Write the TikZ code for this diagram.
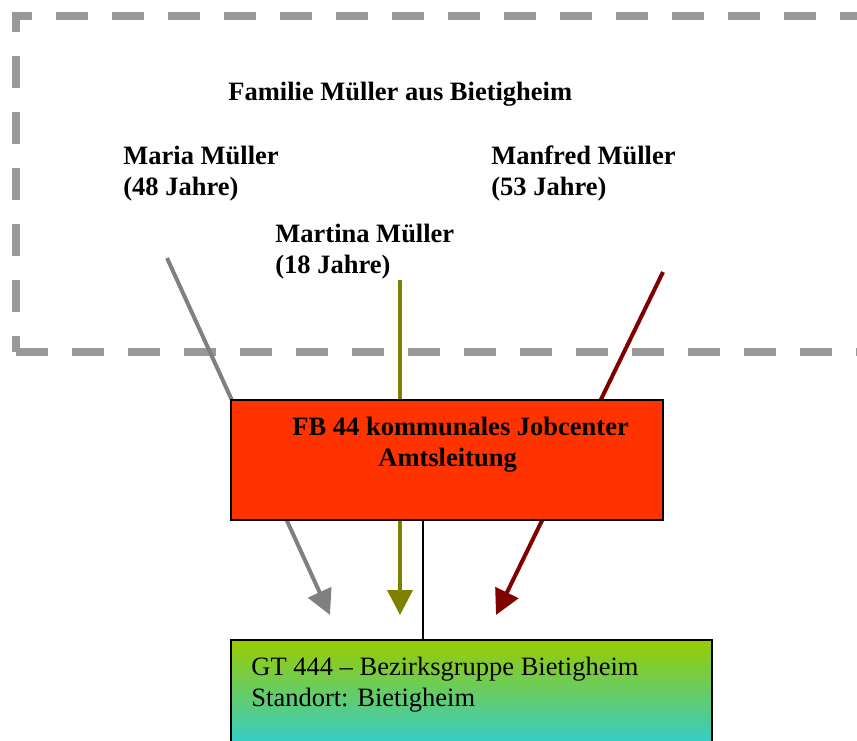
\documentclass[tikz,border=0pt]{standalone}
\usepackage{fontspec}
\setmainfont{Liberation Serif}
\usetikzlibrary{arrows.meta}
\definecolor{framegray}{RGB}{153,153,153}
\definecolor{mariaclr}{RGB}{128,128,128}
\definecolor{martinaclr}{RGB}{128,128,0}
\definecolor{manfredclr}{RGB}{128,0,0}
\definecolor{jcred}{RGB}{255,51,0}
\definecolor{gttop}{RGB}{153,204,0}
\definecolor{gtbot}{RGB}{51,204,204}
\newcommand{\diafont}{\fontsize{13.25}{15.5}\selectfont}
\tikzset{
  frame/.style={draw=framegray,line width=4pt,dash pattern=on 16pt off 12pt},
  label/.style={anchor=base west,inner sep=0pt,align=left,font=\diafont\bfseries},
  plain/.style={label,font=\diafont},
  flow/.style={line width=2pt,-{Triangle[length=12.5pt,width=12.5pt]}},
  unitbox/.style={rectangle,draw,line width=0.75pt,inner sep=0pt},
  link/.style={line width=0.8pt},
}
\begin{document}
\begin{tikzpicture}[x=0.5pt,y=-0.5pt]
\useasboundingbox (0,0) rectangle (857,740);
\clip (0,0) rectangle (857,740);
% family frame, open to the right
\draw[frame,dash phase=8pt] (16,352) -- (16,16) -- (900,16);
\draw[frame] (16,352) -- (900,352);
\node[label] (fam) at (228,100) {Familie Müller aus Bietigheim};
\node[label] (maria) at (123,195) {Maria Müller\\(48 Jahre)};
\node[label] (manfred) at (491,195) {Manfred Müller\\(53 Jahre)};
\node[label] (martina) at (275,273) {Martina Müller\\(18 Jahre)};
% arrows from each person
\coordinate (mariaA) at (167,258);   \coordinate (mariaB) at (330,615);
\coordinate (martinaA) at (400,280); \coordinate (martinaB) at (400,615);
\coordinate (manfredA) at (663,272); \coordinate (manfredB) at (496,615);
\draw[flow,mariaclr] (mariaA) -- (mariaB);
\draw[flow,martinaclr] (martinaA) -- (martinaB);
\draw[flow,manfredclr] (manfredA) -- (manfredB);
% jobcenter
\node[unitbox,fill=jcred,minimum width=216pt,minimum height=60pt] (jc) at (447,460) {};
\node[label] (jctext) at (292,466) {FB 44 kommunales Jobcenter\\\hspace*{43pt}Amtsleitung};
% bezirksgruppe
\node[unitbox,top color=gttop,bottom color=gtbot,minimum width=240.5pt,
      minimum height=52.5pt] (gt) at (471.5,692.5) {};
\node[plain] (gttext) at (251,706) {GT 444 -- Bezirksgruppe Bietigheim\\Standort: Bietigheim};
\draw[link] ([xshift=-12pt]jc.south) -- ([xshift=-24.25pt]gt.north);
\end{tikzpicture}
\end{document}
